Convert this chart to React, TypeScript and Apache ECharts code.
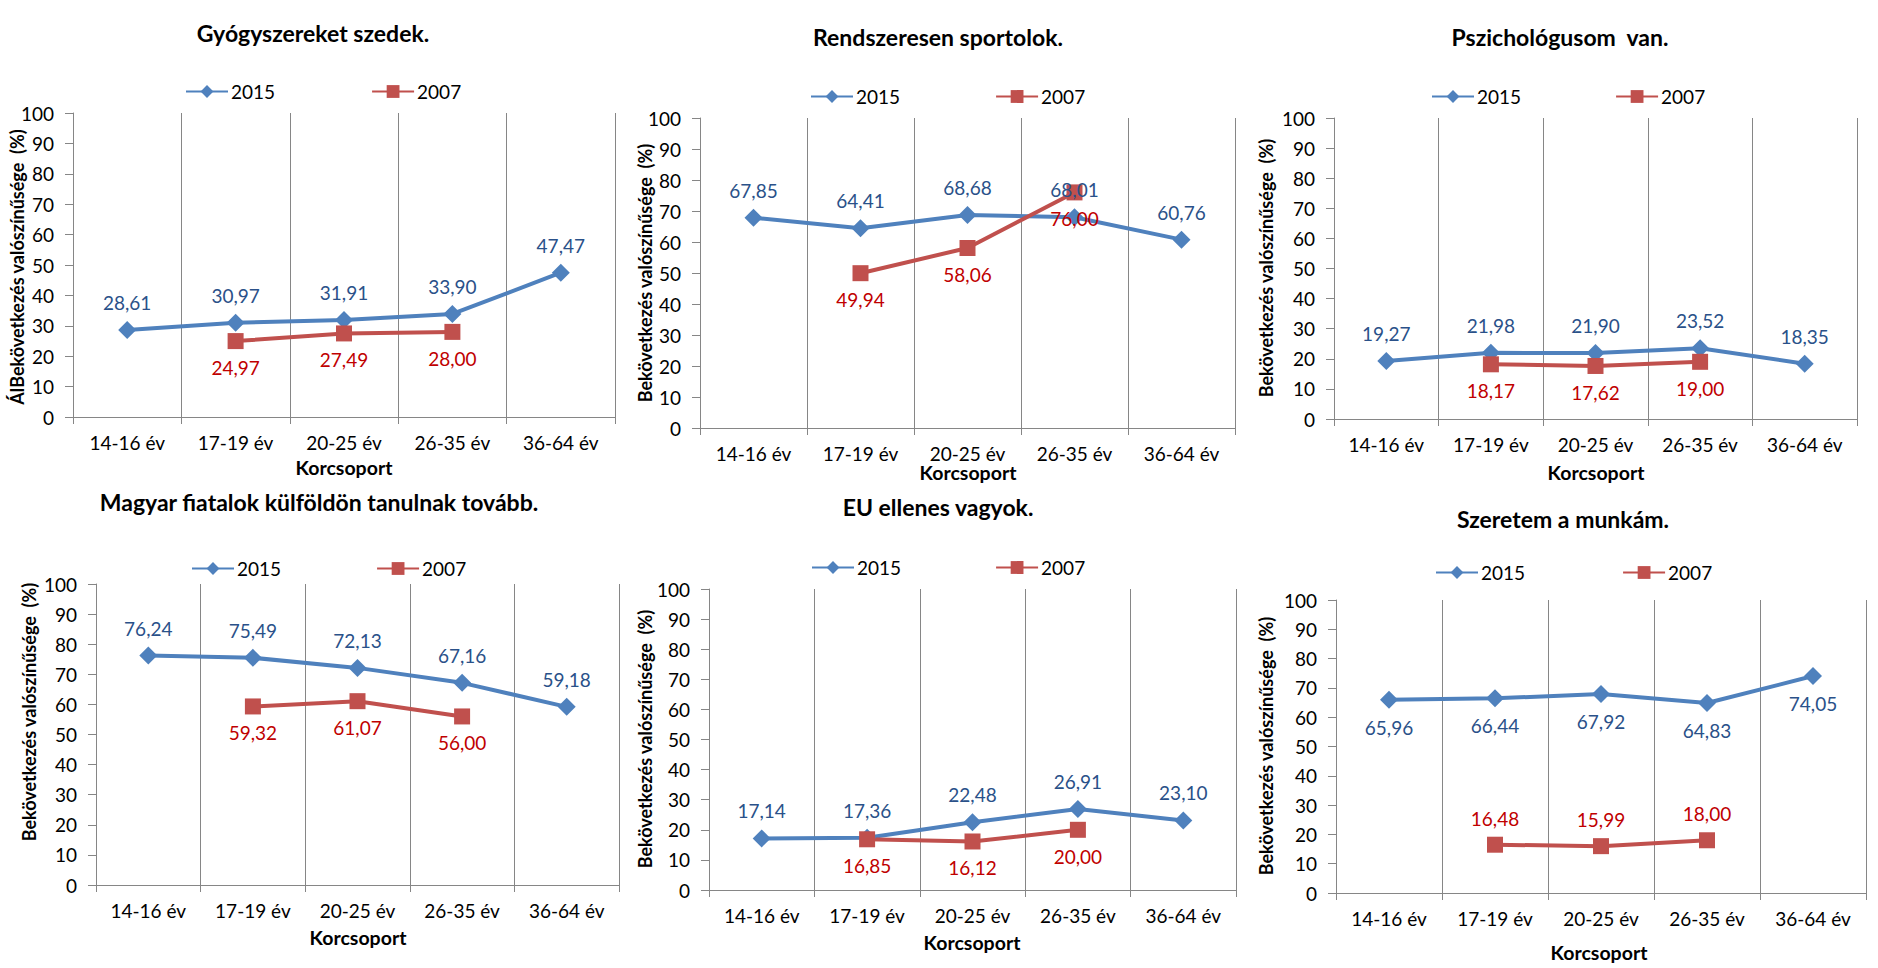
import React, { useEffect, useRef } from "react";
import * as echarts from "echarts";

const categories = ["14-16 év", "17-19 év", "20-25 év", "26-35 év", "36-64 év"];
const panelTitles = [
  "Gyógyszereket szedek.",
  "Rendszeresen sportolok.",
  "Pszichológusom  van.",
  "Magyar fiatalok külföldön tanulnak tovább.",
  "EU ellenes vagyok.",
  "Szeretem a munkám.",
];
const yTitles = [
  "ÁlBekövetkezés valószínűsége  (%)",
  "Bekövetkezés valószínűsége  (%)",
  "Bekövetkezés valószínűsége  (%)",
  "Bekövetkezés valószínűsége  (%)",
  "Bekövetkezés valószínűsége  (%)",
  "Bekövetkezés valószínűsége  (%)",
];
const xTitle = "Korcsoport";
const seriesNames = ["2015", "2007"];

const gyogyszer2015 = [28.61, 30.97, 31.91, 33.9, 47.47];
const gyogyszer2007 = [null, 24.97, 27.49, 28.0, null];
const sport2015 = [67.85, 64.41, 68.68, 68.01, 60.76];
const sport2007 = [null, 49.94, 58.06, 76.0, null];
const pszich2015 = [19.27, 21.98, 21.9, 23.52, 18.35];
const pszich2007 = [null, 18.17, 17.62, 19.0, null];
const kulfold2015 = [76.24, 75.49, 72.13, 67.16, 59.18];
const kulfold2007 = [null, 59.32, 61.07, 56.0, null];
const eu2015 = [17.14, 17.36, 22.48, 26.91, 23.1];
const eu2007 = [null, 16.85, 16.12, 20.0, null];
const munka2015 = [65.96, 66.44, 67.92, 64.83, 74.05];
const munka2007 = [null, 16.48, 15.99, 18.0, null];

const yTicks = [0, 100, 10];

const data2015 = [gyogyszer2015, sport2015, pszich2015, kulfold2015, eu2015, munka2015];
const data2007 = [gyogyszer2007, sport2007, pszich2007, kulfold2007, eu2007, munka2007];

// layout (px)
const grids = [
  { left: 73, right: 615, top: 113, bottom: 417 },
  { left: 700, right: 1235, top: 118, bottom: 428 },
  { left: 1334, right: 1857, top: 118, bottom: 419 },
  { left: 96, right: 619, top: 584, bottom: 885 },
  { left: 709, right: 1236, top: 589, bottom: 890 },
  { left: 1336, right: 1866, top: 600, bottom: 893 },
];
const titlePos = [
  [313, 33], [938, 37], [1560, 37], [319, 502], [938, 507], [1563, 519],
];
const korcsPos = [
  [344, 467], [968, 472], [1596, 472], [358, 937], [972, 942], [1599, 952],
];
const yTitlePos = [
  [17, 267], [645, 273], [1266, 268], [29, 712], [645, 739], [1266, 746],
];
const legendPos = [
  [185, 91, 371], [810, 96, 995], [1431, 96, 1615], [191, 568, 376], [811, 567, 995], [1435, 572, 1622],
];
const pos2015 = ["top", "top", "top", "top", "top", "bottom"];
const pos2007 = ["bottom", "bottom", "bottom", "bottom", "bottom", "top"];

const FONT = "Lato, 'Open Sans', sans-serif";
const BLUE = "#4F81BD";
const RED = "#C0504D";
const AXIS = "#868686";

const fmt = (p: any) =>
  p.value == null || p.value === "-" ? "" : Number(p.value).toFixed(2).replace(".", ",");

export default function App() {
  const ref = useRef<HTMLDivElement>(null);
  useEffect(() => {
    if (!ref.current) return;
    const chart = echarts.init(ref.current, undefined, { renderer: "svg" });
    const grid: any[] = [];
    const xAxis: any[] = [];
    const yAxis: any[] = [];
    const series: any[] = [];
    const legend: any[] = [];
    const graphic: any[] = [];
    grids.forEach((g, i) => {
      grid.push({ left: g.left, top: g.top, width: g.right - g.left, height: g.bottom - g.top, containLabel: false });
      xAxis.push({
        type: "category",
        gridIndex: i,
        data: categories,
        boundaryGap: true,
        axisLine: { show: true, lineStyle: { color: AXIS, width: 1 } },
        axisTick: { show: true, length: 7, lineStyle: { color: AXIS } },
        axisLabel: { margin: 16, fontSize: 19, color: "#000", fontFamily: FONT, interval: 0 },
        splitLine: { show: true, lineStyle: { color: AXIS, width: 1 } },
      });
      yAxis.push({
        type: "value",
        gridIndex: i,
        min: yTicks[0],
        max: yTicks[1],
        interval: yTicks[2],
        axisLine: { show: true, lineStyle: { color: AXIS, width: 1 } },
        axisTick: { show: true, length: 8, lineStyle: { color: AXIS } },
        axisLabel: { margin: 19, fontSize: 19, color: "#000", fontFamily: FONT },
        splitLine: { show: false },
      });
      series.push({
        name: seriesNames[0],
        type: "line",
        xAxisIndex: i,
        yAxisIndex: i,
        data: data2015[i],
        color: BLUE,
        symbol: "diamond",
        symbolSize: 18,
        lineStyle: { width: 4, color: BLUE },
        itemStyle: { color: BLUE },
        label: {
          show: true,
          position: pos2015[i],
          distance: 9,
          fontSize: 19,
          fontFamily: FONT,
          color: "#2A5189",
          formatter: fmt,
        },
      });
      series.push({
        name: seriesNames[1],
        type: "line",
        xAxisIndex: i,
        yAxisIndex: i,
        data: data2007[i],
        color: RED,
        symbol: "rect",
        symbolSize: 16,
        lineStyle: { width: 4, color: RED },
        itemStyle: { color: RED },
        label: {
          show: true,
          position: pos2007[i],
          distance: 9,
          fontSize: 19,
          fontFamily: FONT,
          color: "#C00000",
          formatter: fmt,
        },
      });
      const lp = legendPos[i];
      legend.push({
        data: seriesNames,
        left: lp[0],
        top: lp[1] - 9,
        padding: 0,
        itemWidth: 42,
        itemHeight: 16,
        itemGap: lp[2] - lp[0] - 90,
        textStyle: { fontSize: 19, fontFamily: FONT, color: "#000", padding: [0, 0, 0, -2] },
        selectedMode: false,
      });
      graphic.push({
        type: "text",
        x: titlePos[i][0],
        y: titlePos[i][1],
        style: {
          text: panelTitles[i],
          fontSize: 23,
          fontWeight: "bold",
          fontFamily: FONT,
          fill: "#000",
          align: "center",
          verticalAlign: "middle",
        },
      });
      graphic.push({
        type: "text",
        x: korcsPos[i][0],
        y: korcsPos[i][1],
        style: {
          text: xTitle,
          fontSize: 19.5,
          fontWeight: "bold",
          fontFamily: FONT,
          fill: "#000",
          align: "center",
          verticalAlign: "middle",
        },
      });
      graphic.push({
        type: "text",
        x: yTitlePos[i][0],
        y: yTitlePos[i][1],
        rotation: Math.PI / 2,
        style: {
          text: yTitles[i],
          fontSize: 18,
          fontWeight: "bold",
          fontFamily: FONT,
          fill: "#000",
          align: "center",
          verticalAlign: "middle",
        },
      });
    });
    chart.setOption({
      animation: false,
      backgroundColor: "#fff",
      grid,
      xAxis,
      yAxis,
      series,
      legend,
      graphic,
    });
    return () => chart.dispose();
  }, []);
  return (
    <div
      ref={ref}
      style={{ position: "fixed", left: 0, top: 0, width: 1878, height: 968, background: "#fff" }}
    />
  );
}
